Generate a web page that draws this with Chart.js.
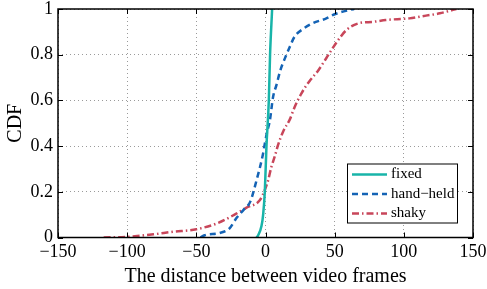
<!DOCTYPE html>
<html>
<head>
<meta charset="utf-8">
<script src="https://cdn.jsdelivr.net/npm/chart.js@4"></script>
<style>
  html, body { margin: 0; padding: 0; background: #fff; }
  #cdf { display: block; }
</style>
</head>
<body>
<canvas id="cdf" width="487" height="289"></canvas>
<script>
/* CDF of distance between video frames */

const xTicks = [-150, -100, -50, 0, 50, 100, 150];
const yTicks = [0, 0.2, 0.4, 0.6, 0.8, 1];

const fixedX = [-6.5, -5.3, -2.9, -1.7, -0.5, 0.7, 2.4, 3.3, 4.8];
const fixedY = [0, 0.01, 0.05, 0.1, 0.2, 0.4, 0.6, 0.8, 1];

const handX = [-47, -44, -33, -26, -21, -16, -11, -6.5, -2, -0.5, 1.2, 3.1, 5.5, 7.9, 10.8, 14, 17.6, 21, 27, 34, 44, 50, 61, 64];
const handY = [0, 0.01, 0.02, 0.04, 0.085, 0.12, 0.157, 0.25, 0.36, 0.41, 0.463, 0.51, 0.616, 0.667, 0.733, 0.784, 0.835, 0.879, 0.912, 0.937, 0.959, 0.977, 0.996, 1];

const shakyX = [-117, -100, -81, -67, -50, -35, -23, -14, -4, -0.5, 1.9, 4.3, 6.7, 9.1, 12.7, 17.6, 21, 26, 31.5, 38, 42.8, 45.2, 52.5, 58.5, 67, 78, 87, 104, 116, 126, 135.5, 138];
const shakyY = [0, 0.003, 0.014, 0.025, 0.036, 0.062, 0.098, 0.13, 0.164, 0.208, 0.25, 0.31, 0.355, 0.405, 0.463, 0.517, 0.57, 0.631, 0.682, 0.73, 0.774, 0.797, 0.864, 0.908, 0.937, 0.944, 0.952, 0.959, 0.971, 0.981, 0.996, 1];

const FONT = "'Liberation Serif', 'Times New Roman', serif";

function pts(xs, ys) {
  return xs.map((x, i) => ({ x, y: ys[i] }));
}

function fmtTick(v) {
  const s = String(Math.round(v * 10) / 10);
  return s.replace("-", "\u2212");
}

// box frame with inward ticks on all four sides
const framePlugin = {
  id: "frame",
  afterDatasetsDraw(chart) {
    const { ctx, chartArea: a, scales } = chart;
    ctx.save();
    ctx.strokeStyle = "#000";
    ctx.lineWidth = 1.5;
    ctx.setLineDash([]);
    ctx.strokeRect(a.left, a.top, a.right - a.left, a.bottom - a.top);
    ctx.lineWidth = 1;
    const t = 5;
    ctx.beginPath();
    xTicks.forEach((v) => {
      const px = Math.round(scales.x.getPixelForValue(v)) + 0.5;
      ctx.moveTo(px, a.bottom); ctx.lineTo(px, a.bottom - t);
      ctx.moveTo(px, a.top); ctx.lineTo(px, a.top + t);
    });
    yTicks.forEach((v) => {
      const py = Math.round(scales.y.getPixelForValue(v)) + 0.5;
      ctx.moveTo(a.left, py); ctx.lineTo(a.left + t, py);
      ctx.moveTo(a.right, py); ctx.lineTo(a.right - t, py);
    });
    ctx.stroke();
    ctx.restore();
  },
  afterDraw(chart) {
    // boxed legend in lower right
    const { ctx, chartArea: a } = chart;
    const bx = a.right - 126, by = a.bottom - 74, bw = 110, bh = 59;
    ctx.save();
    ctx.fillStyle = "#fff";
    ctx.fillRect(bx, by, bw, bh);
    ctx.strokeStyle = "#000";
    ctx.lineWidth = 1;
    ctx.strokeRect(bx + 0.5, by + 0.5, bw, bh);
    ctx.font = "15px " + FONT;
    ctx.textBaseline = "middle";
    chart.data.datasets.forEach((ds, i) => {
      const y = by + 11 + i * 19.5;
      ctx.strokeStyle = ds.borderColor;
      ctx.lineWidth = ds.borderWidth;
      ctx.setLineDash(ds.borderDash || []);
      ctx.beginPath();
      ctx.moveTo(bx + 5, y);
      ctx.lineTo(bx + 40, y);
      ctx.stroke();
      ctx.setLineDash([]);
      ctx.fillStyle = "#000";
      ctx.fillText(ds.label, bx + 44, y);
    });
    ctx.restore();
  },
};

const ctx = document.getElementById("cdf");
new Chart(ctx, {
  type: "scatter",
  data: {
    datasets: [
      {
        label: "fixed",
        data: pts(fixedX, fixedY),
        showLine: true,
        borderColor: "#18b4a9",
        borderWidth: 2.5,
        pointRadius: 0,
        cubicInterpolationMode: "monotone",
      },
      {
        label: "hand\u2212held",
        data: pts(handX, handY),
        showLine: true,
        borderColor: "#1463b5",
        borderWidth: 2.5,
        borderDash: [6, 4],
        pointRadius: 0,
        cubicInterpolationMode: "monotone",
      },
      {
        label: "shaky",
        data: pts(shakyX, shakyY),
        showLine: true,
        borderColor: "#c8465a",
        borderWidth: 2.5,
        borderDash: [7, 3, 1.5, 3],
        pointRadius: 0,
        cubicInterpolationMode: "monotone",
      },
    ],
  },
  options: {
    responsive: false,
    animation: false,
    devicePixelRatio: 1,
    layout: { padding: { left: 0, right: 14, top: 9, bottom: 0 } },
    scales: {
      x: {
        type: "linear",
        min: -150,
        max: 150,
        afterBuildTicks: (s) => { s.ticks = xTicks.map((v) => ({ value: v })); },
        afterFit: (s) => {
          s.height = 51.5;
          s.paddingLeft = 0;
          s.paddingRight = 0;
        },
        ticks: {
          color: "#000",
          font: { family: FONT, size: 18 },
          padding: 4,
          maxRotation: 0,
          callback: (v) => fmtTick(v),
        },
        grid: { color: "#9a9a9a", lineWidth: 1, drawTicks: false },
        border: { display: false, dash: [1, 3] },
        title: {
          display: true,
          text: "The distance between video frames",
          color: "#000",
          font: { family: FONT, size: 20 },
          padding: { top: 0, bottom: 0 },
        },
      },
      y: {
        type: "linear",
        min: 0,
        max: 1,
        afterBuildTicks: (s) => { s.ticks = yTicks.map((v) => ({ value: v })); },
        afterFit: (s) => {
          s.width = 58;
          s.paddingTop = 0;
          s.paddingBottom = 0;
        },
        ticks: {
          color: "#000",
          font: { family: FONT, size: 18 },
          padding: 5,
          callback: (v) => fmtTick(v),
        },
        grid: { color: "#9a9a9a", lineWidth: 1, drawTicks: false },
        border: { display: false, dash: [1, 3] },
        title: {
          display: true,
          text: "CDF",
          color: "#000",
          font: { family: FONT, size: 20 },
          padding: { top: 4, bottom: 0 },
        },
      },
    },
    plugins: {
      legend: { display: false },
      tooltip: { enabled: false },
    },
  },
  plugins: [framePlugin],
});
</script>
</body>
</html>
